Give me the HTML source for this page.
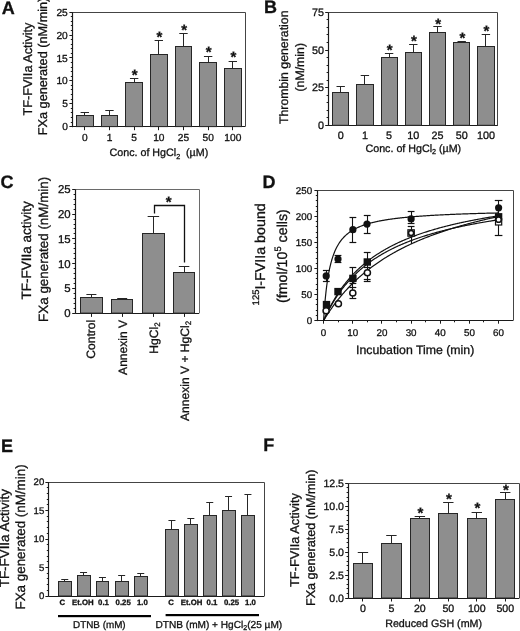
<!DOCTYPE html>
<html><head><meta charset="utf-8"><style>
html,body{margin:0;padding:0;background:#fff;}
svg{display:block;will-change:transform;}
text{font-family:"Liberation Sans", sans-serif;fill:#111;text-rendering:geometricPrecision;stroke:#111;stroke-width:0.3px;}
</style></head><body>
<svg width="520" height="631" viewBox="0 0 520 631">
<rect width="520" height="631" fill="#fff"/>
<text x="1.80" y="13.50" font-size="18" font-weight="bold">A</text>
<polyline points="72.5,126.6 72.5,12.5 245.5,12.5 245.5,126.6" fill="none" stroke="#444" stroke-width="1.0"/>
<line x1="72.60" y1="126.50" x2="245.20" y2="126.50" stroke="#1a1a1a" stroke-width="1.2"/>
<line x1="72.50" y1="127.20" x2="72.50" y2="12.20" stroke="#1a1a1a" stroke-width="1.2"/>
<line x1="69.40" y1="126.50" x2="72.60" y2="126.50" stroke="#1a1a1a" stroke-width="1.0"/>
<line x1="70.80" y1="122.50" x2="72.60" y2="122.50" stroke="#1a1a1a" stroke-width="1.0"/>
<line x1="70.80" y1="117.50" x2="72.60" y2="117.50" stroke="#1a1a1a" stroke-width="1.0"/>
<line x1="70.80" y1="112.50" x2="72.60" y2="112.50" stroke="#1a1a1a" stroke-width="1.0"/>
<line x1="70.80" y1="108.50" x2="72.60" y2="108.50" stroke="#1a1a1a" stroke-width="1.0"/>
<line x1="69.40" y1="103.50" x2="72.60" y2="103.50" stroke="#1a1a1a" stroke-width="1.0"/>
<line x1="70.80" y1="99.50" x2="72.60" y2="99.50" stroke="#1a1a1a" stroke-width="1.0"/>
<line x1="70.80" y1="94.50" x2="72.60" y2="94.50" stroke="#1a1a1a" stroke-width="1.0"/>
<line x1="70.80" y1="89.50" x2="72.60" y2="89.50" stroke="#1a1a1a" stroke-width="1.0"/>
<line x1="70.80" y1="85.50" x2="72.60" y2="85.50" stroke="#1a1a1a" stroke-width="1.0"/>
<line x1="69.40" y1="80.50" x2="72.60" y2="80.50" stroke="#1a1a1a" stroke-width="1.0"/>
<line x1="70.80" y1="76.50" x2="72.60" y2="76.50" stroke="#1a1a1a" stroke-width="1.0"/>
<line x1="70.80" y1="71.50" x2="72.60" y2="71.50" stroke="#1a1a1a" stroke-width="1.0"/>
<line x1="70.80" y1="67.50" x2="72.60" y2="67.50" stroke="#1a1a1a" stroke-width="1.0"/>
<line x1="70.80" y1="62.50" x2="72.60" y2="62.50" stroke="#1a1a1a" stroke-width="1.0"/>
<line x1="69.40" y1="57.50" x2="72.60" y2="57.50" stroke="#1a1a1a" stroke-width="1.0"/>
<line x1="70.80" y1="53.50" x2="72.60" y2="53.50" stroke="#1a1a1a" stroke-width="1.0"/>
<line x1="70.80" y1="48.50" x2="72.60" y2="48.50" stroke="#1a1a1a" stroke-width="1.0"/>
<line x1="70.80" y1="44.50" x2="72.60" y2="44.50" stroke="#1a1a1a" stroke-width="1.0"/>
<line x1="70.80" y1="39.50" x2="72.60" y2="39.50" stroke="#1a1a1a" stroke-width="1.0"/>
<line x1="69.40" y1="35.50" x2="72.60" y2="35.50" stroke="#1a1a1a" stroke-width="1.0"/>
<line x1="70.80" y1="30.50" x2="72.60" y2="30.50" stroke="#1a1a1a" stroke-width="1.0"/>
<line x1="70.80" y1="25.50" x2="72.60" y2="25.50" stroke="#1a1a1a" stroke-width="1.0"/>
<line x1="70.80" y1="21.50" x2="72.60" y2="21.50" stroke="#1a1a1a" stroke-width="1.0"/>
<line x1="70.80" y1="16.50" x2="72.60" y2="16.50" stroke="#1a1a1a" stroke-width="1.0"/>
<line x1="69.40" y1="12.50" x2="72.60" y2="12.50" stroke="#1a1a1a" stroke-width="1.0"/>
<text x="67.81" y="130.17" font-size="10.2" text-anchor="end">0</text>
<text x="67.81" y="107.29" font-size="10.2" text-anchor="end">5</text>
<text x="67.81" y="84.41" font-size="10.2" text-anchor="end">10</text>
<text x="67.81" y="61.53" font-size="10.2" text-anchor="end">15</text>
<text x="67.81" y="38.65" font-size="10.2" text-anchor="end">20</text>
<text x="67.81" y="15.77" font-size="10.2" text-anchor="end">25</text>
<rect x="76.50" y="115.50" width="17.00" height="11.10" fill="#8e8e8e" stroke="#262626" stroke-width="1.0"/>
<line x1="84.50" y1="115.00" x2="84.50" y2="112.30" stroke="#262626" stroke-width="1.0"/>
<line x1="80.60" y1="112.50" x2="89.00" y2="112.50" stroke="#262626" stroke-width="1.0"/>
<line x1="84.50" y1="126.60" x2="84.50" y2="130.20" stroke="#1a1a1a" stroke-width="1.0"/>
<text x="84.80" y="141.00" font-size="10.2" text-anchor="middle">0</text>
<rect x="101.50" y="115.50" width="16.00" height="11.10" fill="#8e8e8e" stroke="#262626" stroke-width="1.0"/>
<line x1="109.50" y1="115.00" x2="109.50" y2="110.40" stroke="#262626" stroke-width="1.0"/>
<line x1="105.27" y1="110.50" x2="113.67" y2="110.50" stroke="#262626" stroke-width="1.0"/>
<line x1="109.50" y1="126.60" x2="109.50" y2="130.20" stroke="#1a1a1a" stroke-width="1.0"/>
<text x="109.47" y="141.00" font-size="10.2" text-anchor="middle">1</text>
<rect x="125.50" y="82.50" width="17.00" height="44.10" fill="#8e8e8e" stroke="#262626" stroke-width="1.0"/>
<line x1="134.50" y1="82.20" x2="134.50" y2="78.20" stroke="#262626" stroke-width="1.0"/>
<line x1="129.94" y1="78.50" x2="138.34" y2="78.50" stroke="#262626" stroke-width="1.0"/>
<text x="131.81" y="79.68" font-size="15" font-weight="bold">*</text>
<line x1="134.50" y1="126.60" x2="134.50" y2="130.20" stroke="#1a1a1a" stroke-width="1.0"/>
<text x="134.14" y="141.00" font-size="10.2" text-anchor="middle">5</text>
<rect x="150.50" y="54.50" width="17.00" height="72.10" fill="#8e8e8e" stroke="#262626" stroke-width="1.0"/>
<line x1="158.50" y1="54.50" x2="158.50" y2="40.75" stroke="#262626" stroke-width="1.0"/>
<line x1="154.61" y1="40.50" x2="163.01" y2="40.50" stroke="#262626" stroke-width="1.0"/>
<text x="156.48" y="42.28" font-size="15" font-weight="bold">*</text>
<line x1="158.50" y1="126.60" x2="158.50" y2="130.20" stroke="#1a1a1a" stroke-width="1.0"/>
<text x="158.81" y="141.00" font-size="10.2" text-anchor="middle">10</text>
<rect x="175.50" y="46.50" width="16.00" height="80.10" fill="#8e8e8e" stroke="#262626" stroke-width="1.0"/>
<line x1="183.50" y1="46.50" x2="183.50" y2="33.50" stroke="#262626" stroke-width="1.0"/>
<line x1="179.28" y1="33.50" x2="187.68" y2="33.50" stroke="#262626" stroke-width="1.0"/>
<text x="181.16" y="35.27" font-size="15" font-weight="bold">*</text>
<line x1="183.50" y1="126.60" x2="183.50" y2="130.20" stroke="#1a1a1a" stroke-width="1.0"/>
<text x="183.48" y="141.00" font-size="10.2" text-anchor="middle">25</text>
<rect x="199.50" y="62.50" width="17.00" height="64.10" fill="#8e8e8e" stroke="#262626" stroke-width="1.0"/>
<line x1="208.50" y1="62.25" x2="208.50" y2="56.25" stroke="#262626" stroke-width="1.0"/>
<line x1="203.95" y1="56.50" x2="212.35" y2="56.50" stroke="#262626" stroke-width="1.0"/>
<text x="205.83" y="57.28" font-size="15" font-weight="bold">*</text>
<line x1="208.50" y1="126.60" x2="208.50" y2="130.20" stroke="#1a1a1a" stroke-width="1.0"/>
<text x="208.15" y="141.00" font-size="10.2" text-anchor="middle">50</text>
<rect x="224.50" y="68.50" width="17.00" height="58.10" fill="#8e8e8e" stroke="#262626" stroke-width="1.0"/>
<line x1="232.50" y1="68.50" x2="232.50" y2="61.75" stroke="#262626" stroke-width="1.0"/>
<line x1="228.62" y1="61.50" x2="237.02" y2="61.50" stroke="#262626" stroke-width="1.0"/>
<text x="230.50" y="61.78" font-size="15" font-weight="bold">*</text>
<line x1="232.50" y1="126.60" x2="232.50" y2="130.20" stroke="#1a1a1a" stroke-width="1.0"/>
<text x="232.82" y="141.00" font-size="10.2" text-anchor="middle">100</text>
<text x="109.60" y="156.30" font-size="10.7">Conc. of HgCl<tspan font-size="7.2" dy="2.6">2</tspan><tspan dy="-2.6" xml:space="preserve">  (µM)</tspan></text>
<text transform="translate(31.70,115.60) rotate(-90)" font-size="12.7">TF-FVIIa Activity</text>
<text transform="translate(46.90,135.20) rotate(-90)" font-size="12.7">FXa generated (nM/min)</text>
<text x="264.00" y="12.90" font-size="18" font-weight="bold">B</text>
<polyline points="328.5,125.3 328.5,12.5 497.5,12.5 497.5,125.3" fill="none" stroke="#444" stroke-width="1.0"/>
<line x1="328.40" y1="125.50" x2="497.80" y2="125.50" stroke="#1a1a1a" stroke-width="1.2"/>
<line x1="328.50" y1="125.90" x2="328.50" y2="12.40" stroke="#1a1a1a" stroke-width="1.2"/>
<line x1="325.20" y1="125.50" x2="328.40" y2="125.50" stroke="#1a1a1a" stroke-width="1.0"/>
<line x1="326.60" y1="117.50" x2="328.40" y2="117.50" stroke="#1a1a1a" stroke-width="1.0"/>
<line x1="326.60" y1="110.50" x2="328.40" y2="110.50" stroke="#1a1a1a" stroke-width="1.0"/>
<line x1="326.60" y1="102.50" x2="328.40" y2="102.50" stroke="#1a1a1a" stroke-width="1.0"/>
<line x1="326.60" y1="95.50" x2="328.40" y2="95.50" stroke="#1a1a1a" stroke-width="1.0"/>
<line x1="325.20" y1="87.50" x2="328.40" y2="87.50" stroke="#1a1a1a" stroke-width="1.0"/>
<line x1="326.60" y1="80.50" x2="328.40" y2="80.50" stroke="#1a1a1a" stroke-width="1.0"/>
<line x1="326.60" y1="72.50" x2="328.40" y2="72.50" stroke="#1a1a1a" stroke-width="1.0"/>
<line x1="326.60" y1="65.50" x2="328.40" y2="65.50" stroke="#1a1a1a" stroke-width="1.0"/>
<line x1="326.60" y1="57.50" x2="328.40" y2="57.50" stroke="#1a1a1a" stroke-width="1.0"/>
<line x1="325.20" y1="50.50" x2="328.40" y2="50.50" stroke="#1a1a1a" stroke-width="1.0"/>
<line x1="326.60" y1="42.50" x2="328.40" y2="42.50" stroke="#1a1a1a" stroke-width="1.0"/>
<line x1="326.60" y1="34.50" x2="328.40" y2="34.50" stroke="#1a1a1a" stroke-width="1.0"/>
<line x1="326.60" y1="27.50" x2="328.40" y2="27.50" stroke="#1a1a1a" stroke-width="1.0"/>
<line x1="326.60" y1="19.50" x2="328.40" y2="19.50" stroke="#1a1a1a" stroke-width="1.0"/>
<line x1="325.20" y1="12.50" x2="328.40" y2="12.50" stroke="#1a1a1a" stroke-width="1.0"/>
<text x="324.03" y="129.08" font-size="10.8" text-anchor="end">0</text>
<text x="324.03" y="91.45" font-size="10.8" text-anchor="end">25</text>
<text x="324.03" y="53.81" font-size="10.8" text-anchor="end">50</text>
<text x="324.03" y="16.18" font-size="10.8" text-anchor="end">75</text>
<rect x="332.50" y="92.50" width="16.00" height="32.80" fill="#8e8e8e" stroke="#262626" stroke-width="1.0"/>
<line x1="340.50" y1="92.30" x2="340.50" y2="86.10" stroke="#262626" stroke-width="1.0"/>
<line x1="336.50" y1="86.50" x2="344.90" y2="86.50" stroke="#262626" stroke-width="1.0"/>
<text x="340.70" y="139.00" font-size="10.8" text-anchor="middle">0</text>
<rect x="356.50" y="84.50" width="17.00" height="40.80" fill="#8e8e8e" stroke="#262626" stroke-width="1.0"/>
<line x1="364.50" y1="84.00" x2="364.50" y2="75.70" stroke="#262626" stroke-width="1.0"/>
<line x1="360.70" y1="75.50" x2="369.10" y2="75.50" stroke="#262626" stroke-width="1.0"/>
<text x="364.90" y="139.00" font-size="10.8" text-anchor="middle">1</text>
<rect x="381.50" y="57.50" width="16.00" height="67.80" fill="#8e8e8e" stroke="#262626" stroke-width="1.0"/>
<line x1="389.50" y1="57.10" x2="389.50" y2="53.10" stroke="#262626" stroke-width="1.0"/>
<line x1="384.90" y1="53.50" x2="393.30" y2="53.50" stroke="#262626" stroke-width="1.0"/>
<text x="386.78" y="54.98" font-size="15" font-weight="bold">*</text>
<text x="389.10" y="139.00" font-size="10.8" text-anchor="middle">5</text>
<rect x="405.50" y="52.50" width="16.00" height="72.80" fill="#8e8e8e" stroke="#262626" stroke-width="1.0"/>
<line x1="413.50" y1="52.30" x2="413.50" y2="44.50" stroke="#262626" stroke-width="1.0"/>
<line x1="409.10" y1="44.50" x2="417.50" y2="44.50" stroke="#262626" stroke-width="1.0"/>
<text x="410.98" y="46.28" font-size="15" font-weight="bold">*</text>
<text x="413.30" y="139.00" font-size="10.8" text-anchor="middle">10</text>
<rect x="429.50" y="32.50" width="16.00" height="92.80" fill="#8e8e8e" stroke="#262626" stroke-width="1.0"/>
<line x1="437.50" y1="32.10" x2="437.50" y2="26.20" stroke="#262626" stroke-width="1.0"/>
<line x1="433.30" y1="26.50" x2="441.70" y2="26.50" stroke="#262626" stroke-width="1.0"/>
<text x="435.18" y="28.57" font-size="15" font-weight="bold">*</text>
<text x="437.50" y="139.00" font-size="10.8" text-anchor="middle">25</text>
<rect x="453.50" y="42.50" width="16.00" height="82.80" fill="#8e8e8e" stroke="#262626" stroke-width="1.0"/>
<line x1="461.50" y1="42.30" x2="461.50" y2="41.50" stroke="#262626" stroke-width="1.0"/>
<line x1="457.50" y1="41.50" x2="465.90" y2="41.50" stroke="#262626" stroke-width="1.0"/>
<text x="459.38" y="42.88" font-size="15" font-weight="bold">*</text>
<text x="461.70" y="139.00" font-size="10.8" text-anchor="middle">50</text>
<rect x="477.50" y="46.50" width="17.00" height="78.80" fill="#8e8e8e" stroke="#262626" stroke-width="1.0"/>
<line x1="485.50" y1="46.30" x2="485.50" y2="34.20" stroke="#262626" stroke-width="1.0"/>
<line x1="481.70" y1="34.50" x2="490.10" y2="34.50" stroke="#262626" stroke-width="1.0"/>
<text x="483.58" y="35.58" font-size="15" font-weight="bold">*</text>
<text x="485.90" y="139.00" font-size="10.8" text-anchor="middle">100</text>
<text x="365.50" y="151.50" font-size="10.7">Conc. of HgCl<tspan font-size="7.2" dy="2.6">2</tspan><tspan dy="-2.6"> (µM)</tspan></text>
<text transform="translate(287.70,124.00) rotate(-90)" font-size="12.3">Thrombin generation</text>
<text transform="translate(304.00,91.50) rotate(-90)" font-size="12.3">(nM/min)</text>
<text x="0.40" y="187.90" font-size="18" font-weight="bold">C</text>
<polyline points="75.5,313.1 75.5,189.5 199.5,189.5 199.5,313.1" fill="none" stroke="#6a6a6a" stroke-width="1.0"/>
<line x1="75.40" y1="313.50" x2="199.20" y2="313.50" stroke="#1a1a1a" stroke-width="1.2"/>
<line x1="75.50" y1="313.70" x2="75.50" y2="189.40" stroke="#1a1a1a" stroke-width="1.2"/>
<line x1="72.20" y1="313.50" x2="75.40" y2="313.50" stroke="#1a1a1a" stroke-width="1.0"/>
<line x1="73.60" y1="308.50" x2="75.40" y2="308.50" stroke="#1a1a1a" stroke-width="1.0"/>
<line x1="73.60" y1="303.50" x2="75.40" y2="303.50" stroke="#1a1a1a" stroke-width="1.0"/>
<line x1="73.60" y1="298.50" x2="75.40" y2="298.50" stroke="#1a1a1a" stroke-width="1.0"/>
<line x1="73.60" y1="293.50" x2="75.40" y2="293.50" stroke="#1a1a1a" stroke-width="1.0"/>
<line x1="72.20" y1="288.50" x2="75.40" y2="288.50" stroke="#1a1a1a" stroke-width="1.0"/>
<line x1="73.60" y1="283.50" x2="75.40" y2="283.50" stroke="#1a1a1a" stroke-width="1.0"/>
<line x1="73.60" y1="278.50" x2="75.40" y2="278.50" stroke="#1a1a1a" stroke-width="1.0"/>
<line x1="73.60" y1="273.50" x2="75.40" y2="273.50" stroke="#1a1a1a" stroke-width="1.0"/>
<line x1="73.60" y1="268.50" x2="75.40" y2="268.50" stroke="#1a1a1a" stroke-width="1.0"/>
<line x1="72.20" y1="263.50" x2="75.40" y2="263.50" stroke="#1a1a1a" stroke-width="1.0"/>
<line x1="73.60" y1="258.50" x2="75.40" y2="258.50" stroke="#1a1a1a" stroke-width="1.0"/>
<line x1="73.60" y1="253.50" x2="75.40" y2="253.50" stroke="#1a1a1a" stroke-width="1.0"/>
<line x1="73.60" y1="248.50" x2="75.40" y2="248.50" stroke="#1a1a1a" stroke-width="1.0"/>
<line x1="73.60" y1="243.50" x2="75.40" y2="243.50" stroke="#1a1a1a" stroke-width="1.0"/>
<line x1="72.20" y1="238.50" x2="75.40" y2="238.50" stroke="#1a1a1a" stroke-width="1.0"/>
<line x1="73.60" y1="233.50" x2="75.40" y2="233.50" stroke="#1a1a1a" stroke-width="1.0"/>
<line x1="73.60" y1="228.50" x2="75.40" y2="228.50" stroke="#1a1a1a" stroke-width="1.0"/>
<line x1="73.60" y1="224.50" x2="75.40" y2="224.50" stroke="#1a1a1a" stroke-width="1.0"/>
<line x1="73.60" y1="219.50" x2="75.40" y2="219.50" stroke="#1a1a1a" stroke-width="1.0"/>
<line x1="72.20" y1="214.50" x2="75.40" y2="214.50" stroke="#1a1a1a" stroke-width="1.0"/>
<line x1="73.60" y1="209.50" x2="75.40" y2="209.50" stroke="#1a1a1a" stroke-width="1.0"/>
<line x1="73.60" y1="204.50" x2="75.40" y2="204.50" stroke="#1a1a1a" stroke-width="1.0"/>
<line x1="73.60" y1="199.50" x2="75.40" y2="199.50" stroke="#1a1a1a" stroke-width="1.0"/>
<line x1="73.60" y1="194.50" x2="75.40" y2="194.50" stroke="#1a1a1a" stroke-width="1.0"/>
<line x1="72.20" y1="189.50" x2="75.40" y2="189.50" stroke="#1a1a1a" stroke-width="1.0"/>
<text x="70.56" y="317.09" font-size="11.4" text-anchor="end">0</text>
<text x="70.56" y="292.35" font-size="11.4" text-anchor="end">5</text>
<text x="70.56" y="267.61" font-size="11.4" text-anchor="end">10</text>
<text x="70.56" y="242.87" font-size="11.4" text-anchor="end">15</text>
<text x="70.56" y="218.13" font-size="11.4" text-anchor="end">20</text>
<text x="70.56" y="193.39" font-size="11.4" text-anchor="end">25</text>
<rect x="80.50" y="297.50" width="22.00" height="15.60" fill="#8e8e8e" stroke="#262626" stroke-width="1.0"/>
<line x1="91.50" y1="297.20" x2="91.50" y2="294.50" stroke="#262626" stroke-width="1.0"/>
<line x1="86.40" y1="294.50" x2="96.40" y2="294.50" stroke="#262626" stroke-width="1.0"/>
<line x1="91.50" y1="313.10" x2="91.50" y2="316.90" stroke="#1a1a1a" stroke-width="1.0"/>
<rect x="111.50" y="299.50" width="21.00" height="13.60" fill="#8e8e8e" stroke="#262626" stroke-width="1.0"/>
<line x1="122.50" y1="299.30" x2="122.50" y2="298.50" stroke="#262626" stroke-width="1.0"/>
<line x1="117.20" y1="298.50" x2="127.20" y2="298.50" stroke="#262626" stroke-width="1.0"/>
<line x1="122.50" y1="313.10" x2="122.50" y2="316.90" stroke="#1a1a1a" stroke-width="1.0"/>
<rect x="142.50" y="233.50" width="22.00" height="79.60" fill="#8e8e8e" stroke="#262626" stroke-width="1.0"/>
<line x1="153.50" y1="233.50" x2="153.50" y2="216.20" stroke="#262626" stroke-width="1.0"/>
<line x1="147.65" y1="216.50" x2="159.15" y2="216.50" stroke="#262626" stroke-width="1.0"/>
<line x1="153.50" y1="313.10" x2="153.50" y2="316.90" stroke="#1a1a1a" stroke-width="1.0"/>
<rect x="173.50" y="272.50" width="21.00" height="40.60" fill="#8e8e8e" stroke="#262626" stroke-width="1.0"/>
<line x1="184.50" y1="272.20" x2="184.50" y2="266.30" stroke="#262626" stroke-width="1.0"/>
<line x1="178.85" y1="266.50" x2="189.35" y2="266.50" stroke="#262626" stroke-width="1.0"/>
<line x1="184.50" y1="313.10" x2="184.50" y2="316.90" stroke="#1a1a1a" stroke-width="1.0"/>
<polyline points="154.5,213.6 154.5,205.5 184.5,205.5 184.5,262.6" fill="none" stroke="#111" stroke-width="1.3"/>
<text x="165.67" y="207.07" font-size="15" font-weight="bold">*</text>
<text transform="translate(95.20,319.80) rotate(-90)" font-size="12.1" text-anchor="end">Control</text>
<text transform="translate(126.90,319.80) rotate(-90)" font-size="12.1" text-anchor="end">Annexin V</text>
<text transform="translate(157.50,322.40) rotate(-90)" font-size="12.1" text-anchor="end">HgCl<tspan font-size="8" dy="2.8">2</tspan></text>
<text transform="translate(188.60,320.80) rotate(-90)" font-size="12.1" text-anchor="end">Annexin V + HgCl<tspan font-size="8" dy="2.8">2</tspan></text>
<text transform="translate(31.20,299.60) rotate(-90)" font-size="13.5">TF-FVIIa activity</text>
<text transform="translate(47.70,321.90) rotate(-90)" font-size="13.4">FXa generated (nM/min)</text>
<text x="262.40" y="188.10" font-size="18" font-weight="bold">D</text>
<polyline points="317.5,320.5 317.5,190.5 513.5,190.5 513.5,320.5" fill="none" stroke="#444" stroke-width="1.0"/>
<line x1="317.60" y1="320.50" x2="513.20" y2="320.50" stroke="#1a1a1a" stroke-width="1.2"/>
<line x1="317.50" y1="321.10" x2="317.50" y2="190.40" stroke="#1a1a1a" stroke-width="1.2"/>
<line x1="314.40" y1="320.50" x2="317.60" y2="320.50" stroke="#1a1a1a" stroke-width="1.0"/>
<line x1="315.80" y1="315.50" x2="317.60" y2="315.50" stroke="#1a1a1a" stroke-width="1.0"/>
<line x1="315.80" y1="310.50" x2="317.60" y2="310.50" stroke="#1a1a1a" stroke-width="1.0"/>
<line x1="315.80" y1="304.50" x2="317.60" y2="304.50" stroke="#1a1a1a" stroke-width="1.0"/>
<line x1="315.80" y1="299.50" x2="317.60" y2="299.50" stroke="#1a1a1a" stroke-width="1.0"/>
<line x1="314.40" y1="294.50" x2="317.60" y2="294.50" stroke="#1a1a1a" stroke-width="1.0"/>
<line x1="315.80" y1="289.50" x2="317.60" y2="289.50" stroke="#1a1a1a" stroke-width="1.0"/>
<line x1="315.80" y1="284.50" x2="317.60" y2="284.50" stroke="#1a1a1a" stroke-width="1.0"/>
<line x1="315.80" y1="278.50" x2="317.60" y2="278.50" stroke="#1a1a1a" stroke-width="1.0"/>
<line x1="315.80" y1="273.50" x2="317.60" y2="273.50" stroke="#1a1a1a" stroke-width="1.0"/>
<line x1="314.40" y1="268.50" x2="317.60" y2="268.50" stroke="#1a1a1a" stroke-width="1.0"/>
<line x1="315.80" y1="263.50" x2="317.60" y2="263.50" stroke="#1a1a1a" stroke-width="1.0"/>
<line x1="315.80" y1="258.50" x2="317.60" y2="258.50" stroke="#1a1a1a" stroke-width="1.0"/>
<line x1="315.80" y1="252.50" x2="317.60" y2="252.50" stroke="#1a1a1a" stroke-width="1.0"/>
<line x1="315.80" y1="247.50" x2="317.60" y2="247.50" stroke="#1a1a1a" stroke-width="1.0"/>
<line x1="314.40" y1="242.50" x2="317.60" y2="242.50" stroke="#1a1a1a" stroke-width="1.0"/>
<line x1="315.80" y1="237.50" x2="317.60" y2="237.50" stroke="#1a1a1a" stroke-width="1.0"/>
<line x1="315.80" y1="232.50" x2="317.60" y2="232.50" stroke="#1a1a1a" stroke-width="1.0"/>
<line x1="315.80" y1="226.50" x2="317.60" y2="226.50" stroke="#1a1a1a" stroke-width="1.0"/>
<line x1="315.80" y1="221.50" x2="317.60" y2="221.50" stroke="#1a1a1a" stroke-width="1.0"/>
<line x1="314.40" y1="216.50" x2="317.60" y2="216.50" stroke="#1a1a1a" stroke-width="1.0"/>
<line x1="315.80" y1="211.50" x2="317.60" y2="211.50" stroke="#1a1a1a" stroke-width="1.0"/>
<line x1="315.80" y1="206.50" x2="317.60" y2="206.50" stroke="#1a1a1a" stroke-width="1.0"/>
<line x1="315.80" y1="200.50" x2="317.60" y2="200.50" stroke="#1a1a1a" stroke-width="1.0"/>
<line x1="315.80" y1="195.50" x2="317.60" y2="195.50" stroke="#1a1a1a" stroke-width="1.0"/>
<line x1="314.40" y1="190.50" x2="317.60" y2="190.50" stroke="#1a1a1a" stroke-width="1.0"/>
<text x="312.19" y="323.93" font-size="9.8" text-anchor="end">0</text>
<text x="312.19" y="297.91" font-size="9.8" text-anchor="end">50</text>
<text x="312.19" y="271.89" font-size="9.8" text-anchor="end">100</text>
<text x="312.19" y="245.87" font-size="9.8" text-anchor="end">150</text>
<text x="312.19" y="219.85" font-size="9.8" text-anchor="end">200</text>
<text x="312.19" y="193.83" font-size="9.8" text-anchor="end">250</text>
<line x1="323.50" y1="320.50" x2="323.50" y2="323.70" stroke="#1a1a1a" stroke-width="1.0"/>
<text x="323.60" y="335.50" font-size="9.8" text-anchor="middle">0</text>
<line x1="338.50" y1="320.50" x2="338.50" y2="322.30" stroke="#1a1a1a" stroke-width="1.0"/>
<line x1="352.50" y1="320.50" x2="352.50" y2="323.70" stroke="#1a1a1a" stroke-width="1.0"/>
<text x="352.76" y="335.50" font-size="9.8" text-anchor="middle">10</text>
<line x1="367.50" y1="320.50" x2="367.50" y2="322.30" stroke="#1a1a1a" stroke-width="1.0"/>
<line x1="381.50" y1="320.50" x2="381.50" y2="323.70" stroke="#1a1a1a" stroke-width="1.0"/>
<text x="381.92" y="335.50" font-size="9.8" text-anchor="middle">20</text>
<line x1="396.50" y1="320.50" x2="396.50" y2="322.30" stroke="#1a1a1a" stroke-width="1.0"/>
<line x1="411.50" y1="320.50" x2="411.50" y2="323.70" stroke="#1a1a1a" stroke-width="1.0"/>
<text x="411.08" y="335.50" font-size="9.8" text-anchor="middle">30</text>
<line x1="425.50" y1="320.50" x2="425.50" y2="322.30" stroke="#1a1a1a" stroke-width="1.0"/>
<line x1="440.50" y1="320.50" x2="440.50" y2="323.70" stroke="#1a1a1a" stroke-width="1.0"/>
<text x="440.24" y="335.50" font-size="9.8" text-anchor="middle">40</text>
<line x1="454.50" y1="320.50" x2="454.50" y2="322.30" stroke="#1a1a1a" stroke-width="1.0"/>
<line x1="469.50" y1="320.50" x2="469.50" y2="323.70" stroke="#1a1a1a" stroke-width="1.0"/>
<text x="469.40" y="335.50" font-size="9.8" text-anchor="middle">50</text>
<line x1="483.50" y1="320.50" x2="483.50" y2="322.30" stroke="#1a1a1a" stroke-width="1.0"/>
<line x1="498.50" y1="320.50" x2="498.50" y2="323.70" stroke="#1a1a1a" stroke-width="1.0"/>
<text x="498.56" y="335.50" font-size="9.8" text-anchor="middle">60</text>
<text x="356.00" y="353.60" font-size="12.3">Incubation Time (min)</text>
<polyline points="323.60,320.50 323.75,318.20 323.89,315.99 324.04,313.86 324.18,311.82 324.33,309.86 324.47,307.97 324.62,306.15 324.77,304.40 324.91,302.70 325.06,301.07 325.20,299.49 325.35,297.97 325.50,296.49 325.64,295.07 325.79,293.69 325.93,292.35 326.08,291.05 326.22,289.80 326.37,288.58 326.52,287.39 326.66,286.25 326.81,285.13 326.95,284.05 327.10,282.99 327.25,281.97 327.39,280.97 327.54,280.00 327.68,279.06 327.83,278.14 327.97,277.24 328.12,276.37 328.27,275.52 328.41,274.69 328.56,273.88 328.70,273.09 328.85,272.32 328.99,271.57 329.14,270.83 329.29,270.11 329.43,269.41 329.58,268.73 329.72,268.05 329.87,267.40 330.02,266.76 330.16,266.13 330.31,265.52 330.45,264.91 330.60,264.33 330.74,263.75 330.89,263.18 331.04,262.63 331.18,262.09 331.33,261.56 331.47,261.04 331.62,260.53 331.76,260.03 331.91,259.53 332.06,259.05 332.20,258.58 332.35,258.12 333.08,255.92 333.81,253.91 334.54,252.06 335.26,250.36 335.99,248.79 336.72,247.33 337.45,245.98 338.18,244.71 338.91,243.53 339.64,242.42 340.37,241.39 341.10,240.41 341.83,239.49 342.55,238.62 343.28,237.80 344.01,237.02 344.74,236.29 345.47,235.59 346.20,234.92 346.93,234.29 347.66,233.69 348.39,233.11 349.12,232.56 349.84,232.04 350.57,231.54 351.30,231.06 352.03,230.59 352.76,230.15 353.49,229.73 354.22,229.32 354.95,228.92 355.68,228.55 356.41,228.18 357.13,227.83 357.86,227.49 358.59,227.16 359.32,226.85 360.05,226.54 360.78,226.25 361.51,225.96 362.24,225.68 362.97,225.42 363.70,225.16 364.42,224.90 365.15,224.66 365.88,224.42 366.61,224.19 367.34,223.97 368.07,223.75 368.80,223.54 369.53,223.34 370.26,223.14 370.99,222.94 371.71,222.75 372.44,222.57 373.17,222.39 373.90,222.22 374.63,222.04 375.36,221.88 376.09,221.72 376.82,221.56 377.55,221.40 378.28,221.25 379.00,221.11 379.73,220.96 380.46,220.82 381.19,220.68 381.92,220.55 382.65,220.42 383.38,220.29 384.11,220.16 384.84,220.04 385.56,219.92 386.29,219.80 387.02,219.69 387.75,219.58 388.48,219.46 389.21,219.36 389.94,219.25 390.67,219.15 391.40,219.04 392.13,218.94 392.86,218.84 393.58,218.75 394.31,218.65 395.04,218.56 395.77,218.47 396.50,218.38 397.23,218.29 397.96,218.21 398.69,218.12 399.42,218.04 400.15,217.96 400.87,217.88 401.60,217.80 402.33,217.72 403.06,217.64 403.79,217.57 404.52,217.49 405.25,217.42 405.98,217.35 406.71,217.28 407.44,217.21 408.16,217.14 408.89,217.07 409.62,217.01 410.35,216.94 411.08,216.88 411.81,216.82 412.54,216.75 413.27,216.69 414.00,216.63 414.73,216.57 415.45,216.52 416.18,216.46 416.91,216.40 417.64,216.35 418.37,216.29 419.10,216.24 419.83,216.18 420.56,216.13 421.29,216.08 422.01,216.03 422.74,215.98 423.47,215.93 424.20,215.88 424.93,215.83 425.66,215.78 426.39,215.73 427.12,215.69 427.85,215.64 428.58,215.60 429.31,215.55 430.03,215.51 430.76,215.46 431.49,215.42 432.22,215.38 432.95,215.33 433.68,215.29 434.41,215.25 435.14,215.21 435.87,215.17 436.60,215.13 437.32,215.09 438.05,215.05 438.78,215.02 439.51,214.98 440.24,214.94 440.97,214.90 441.70,214.87 442.43,214.83 443.16,214.80 443.88,214.76 444.61,214.73 445.34,214.69 446.07,214.66 446.80,214.63 447.53,214.59 448.26,214.56 448.99,214.53 449.72,214.49 450.45,214.46 451.18,214.43 451.90,214.40 452.63,214.37 453.36,214.34 454.09,214.31 454.82,214.28 455.55,214.25 456.28,214.22 457.01,214.19 457.74,214.16 458.47,214.13 459.19,214.11 459.92,214.08 460.65,214.05 461.38,214.02 462.11,214.00 462.84,213.97 463.57,213.94 464.30,213.92 465.03,213.89 465.75,213.87 466.48,213.84 467.21,213.82 467.94,213.79 468.67,213.77 469.40,213.74 470.13,213.72 470.86,213.70 471.59,213.67 472.32,213.65 473.05,213.63 473.77,213.60 474.50,213.58 475.23,213.56 475.96,213.53 476.69,213.51 477.42,213.49 478.15,213.47 478.88,213.45 479.61,213.43 480.34,213.40 481.06,213.38 481.79,213.36 482.52,213.34 483.25,213.32 483.98,213.30 484.71,213.28 485.44,213.26 486.17,213.24 486.90,213.22 487.62,213.20 488.35,213.18 489.08,213.16 489.81,213.14 490.54,213.13 491.27,213.11 492.00,213.09 492.73,213.07 493.46,213.05 494.19,213.03 494.92,213.02 495.64,213.00 496.37,212.98 497.10,212.96 497.83,212.95 498.56,212.93" fill="none" stroke="#111" stroke-width="1.2"/>
<polyline points="323.60,320.50 323.75,320.16 323.89,319.82 324.04,319.49 324.18,319.16 324.33,318.82 324.47,318.49 324.62,318.16 324.77,317.84 324.91,317.51 325.06,317.19 325.20,316.86 325.35,316.54 325.50,316.22 325.64,315.91 325.79,315.59 325.93,315.27 326.08,314.96 326.22,314.65 326.37,314.34 326.52,314.03 326.66,313.72 326.81,313.41 326.95,313.11 327.10,312.80 327.25,312.50 327.39,312.20 327.54,311.90 327.68,311.60 327.83,311.30 327.97,311.01 328.12,310.71 328.27,310.42 328.41,310.13 328.56,309.84 328.70,309.55 328.85,309.26 328.99,308.97 329.14,308.69 329.29,308.40 329.43,308.12 329.58,307.84 329.72,307.56 329.87,307.28 330.02,307.00 330.16,306.73 330.31,306.45 330.45,306.18 330.60,305.90 330.74,305.63 330.89,305.36 331.04,305.09 331.18,304.82 331.33,304.55 331.47,304.29 331.62,304.02 331.76,303.76 331.91,303.50 332.06,303.23 332.20,302.97 332.35,302.71 333.08,301.43 333.81,300.18 334.54,298.95 335.26,297.74 335.99,296.56 336.72,295.40 337.45,294.27 338.18,293.16 338.91,292.07 339.64,291.00 340.37,289.95 341.10,288.91 341.83,287.90 342.55,286.91 343.28,285.93 344.01,284.98 344.74,284.04 345.47,283.11 346.20,282.21 346.93,281.31 347.66,280.44 348.39,279.58 349.12,278.73 349.84,277.90 350.57,277.08 351.30,276.27 352.03,275.48 352.76,274.70 353.49,273.93 354.22,273.18 354.95,272.44 355.68,271.71 356.41,270.99 357.13,270.28 357.86,269.58 358.59,268.90 359.32,268.22 360.05,267.55 360.78,266.90 361.51,266.25 362.24,265.61 362.97,264.99 363.70,264.37 364.42,263.76 365.15,263.16 365.88,262.56 366.61,261.98 367.34,261.40 368.07,260.84 368.80,260.28 369.53,259.72 370.26,259.18 370.99,258.64 371.71,258.11 372.44,257.59 373.17,257.07 373.90,256.56 374.63,256.06 375.36,255.56 376.09,255.07 376.82,254.59 377.55,254.11 378.28,253.64 379.00,253.17 379.73,252.71 380.46,252.26 381.19,251.81 381.92,251.37 382.65,250.93 383.38,250.50 384.11,250.07 384.84,249.65 385.56,249.23 386.29,248.82 387.02,248.41 387.75,248.01 388.48,247.61 389.21,247.22 389.94,246.83 390.67,246.45 391.40,246.07 392.13,245.69 392.86,245.32 393.58,244.95 394.31,244.59 395.04,244.23 395.77,243.88 396.50,243.53 397.23,243.18 397.96,242.83 398.69,242.49 399.42,242.16 400.15,241.83 400.87,241.50 401.60,241.17 402.33,240.85 403.06,240.53 403.79,240.21 404.52,239.90 405.25,239.59 405.98,239.29 406.71,238.98 407.44,238.68 408.16,238.39 408.89,238.09 409.62,237.80 410.35,237.51 411.08,237.23 411.81,236.95 412.54,236.67 413.27,236.39 414.00,236.11 414.73,235.84 415.45,235.57 416.18,235.31 416.91,235.04 417.64,234.78 418.37,234.52 419.10,234.27 419.83,234.01 420.56,233.76 421.29,233.51 422.01,233.26 422.74,233.02 423.47,232.77 424.20,232.53 424.93,232.30 425.66,232.06 426.39,231.82 427.12,231.59 427.85,231.36 428.58,231.13 429.31,230.91 430.03,230.68 430.76,230.46 431.49,230.24 432.22,230.02 432.95,229.81 433.68,229.59 434.41,229.38 435.14,229.17 435.87,228.96 436.60,228.75 437.32,228.55 438.05,228.34 438.78,228.14 439.51,227.94 440.24,227.74 440.97,227.54 441.70,227.35 442.43,227.15 443.16,226.96 443.88,226.77 444.61,226.58 445.34,226.39 446.07,226.21 446.80,226.02 447.53,225.84 448.26,225.66 448.99,225.47 449.72,225.30 450.45,225.12 451.18,224.94 451.90,224.77 452.63,224.59 453.36,224.42 454.09,224.25 454.82,224.08 455.55,223.91 456.28,223.74 457.01,223.58 457.74,223.41 458.47,223.25 459.19,223.09 459.92,222.93 460.65,222.77 461.38,222.61 462.11,222.45 462.84,222.29 463.57,222.14 464.30,221.98 465.03,221.83 465.75,221.68 466.48,221.53 467.21,221.38 467.94,221.23 468.67,221.08 469.40,220.93 470.13,220.79 470.86,220.64 471.59,220.50 472.32,220.36 473.05,220.22 473.77,220.08 474.50,219.94 475.23,219.80 475.96,219.66 476.69,219.52 477.42,219.39 478.15,219.25 478.88,219.12 479.61,218.99 480.34,218.85 481.06,218.72 481.79,218.59 482.52,218.46 483.25,218.33 483.98,218.21 484.71,218.08 485.44,217.95 486.17,217.83 486.90,217.70 487.62,217.58 488.35,217.46 489.08,217.33 489.81,217.21 490.54,217.09 491.27,216.97 492.00,216.85 492.73,216.73 493.46,216.62 494.19,216.50 494.92,216.38 495.64,216.27 496.37,216.15 497.10,216.04 497.83,215.93 498.56,215.81" fill="none" stroke="#111" stroke-width="1.2"/>
<polyline points="323.60,320.50 323.75,320.18 323.89,319.86 324.04,319.54 324.18,319.22 324.33,318.91 324.47,318.60 324.62,318.28 324.77,317.97 324.91,317.66 325.06,317.36 325.20,317.05 325.35,316.75 325.50,316.44 325.64,316.14 325.79,315.84 325.93,315.54 326.08,315.24 326.22,314.94 326.37,314.65 326.52,314.35 326.66,314.06 326.81,313.77 326.95,313.48 327.10,313.19 327.25,312.90 327.39,312.62 327.54,312.33 327.68,312.05 327.83,311.77 327.97,311.49 328.12,311.21 328.27,310.93 328.41,310.65 328.56,310.37 328.70,310.10 328.85,309.82 328.99,309.55 329.14,309.28 329.29,309.01 329.43,308.74 329.58,308.47 329.72,308.20 329.87,307.94 330.02,307.67 330.16,307.41 330.31,307.15 330.45,306.89 330.60,306.63 330.74,306.37 330.89,306.11 331.04,305.85 331.18,305.60 331.33,305.34 331.47,305.09 331.62,304.84 331.76,304.59 331.91,304.33 332.06,304.09 332.20,303.84 332.35,303.59 333.08,302.37 333.81,301.17 334.54,300.00 335.26,298.85 335.99,297.72 336.72,296.62 337.45,295.53 338.18,294.47 338.91,293.43 339.64,292.40 340.37,291.40 341.10,290.41 341.83,289.45 342.55,288.50 343.28,287.56 344.01,286.65 344.74,285.74 345.47,284.86 346.20,283.99 346.93,283.14 347.66,282.30 348.39,281.47 349.12,280.66 349.84,279.86 350.57,279.07 351.30,278.30 352.03,277.54 352.76,276.79 353.49,276.05 354.22,275.33 354.95,274.62 355.68,273.91 356.41,273.22 357.13,272.54 357.86,271.87 358.59,271.21 359.32,270.56 360.05,269.92 360.78,269.29 361.51,268.67 362.24,268.05 362.97,267.45 363.70,266.85 364.42,266.27 365.15,265.69 365.88,265.12 366.61,264.55 367.34,264.00 368.07,263.45 368.80,262.91 369.53,262.38 370.26,261.85 370.99,261.34 371.71,260.82 372.44,260.32 373.17,259.82 373.90,259.33 374.63,258.84 375.36,258.37 376.09,257.89 376.82,257.43 377.55,256.96 378.28,256.51 379.00,256.06 379.73,255.62 380.46,255.18 381.19,254.74 381.92,254.32 382.65,253.89 383.38,253.47 384.11,253.06 384.84,252.65 385.56,252.25 386.29,251.85 387.02,251.46 387.75,251.07 388.48,250.69 389.21,250.30 389.94,249.93 390.67,249.56 391.40,249.19 392.13,248.83 392.86,248.47 393.58,248.11 394.31,247.76 395.04,247.41 395.77,247.07 396.50,246.73 397.23,246.39 397.96,246.06 398.69,245.73 399.42,245.40 400.15,245.08 400.87,244.76 401.60,244.45 402.33,244.14 403.06,243.83 403.79,243.52 404.52,243.22 405.25,242.92 405.98,242.62 406.71,242.33 407.44,242.04 408.16,241.75 408.89,241.46 409.62,241.18 410.35,240.90 411.08,240.62 411.81,240.35 412.54,240.08 413.27,239.81 414.00,239.54 414.73,239.28 415.45,239.02 416.18,238.76 416.91,238.50 417.64,238.25 418.37,238.00 419.10,237.75 419.83,237.50 420.56,237.26 421.29,237.02 422.01,236.78 422.74,236.54 423.47,236.30 424.20,236.07 424.93,235.84 425.66,235.61 426.39,235.38 427.12,235.15 427.85,234.93 428.58,234.71 429.31,234.49 430.03,234.27 430.76,234.06 431.49,233.84 432.22,233.63 432.95,233.42 433.68,233.21 434.41,233.00 435.14,232.80 435.87,232.60 436.60,232.39 437.32,232.19 438.05,232.00 438.78,231.80 439.51,231.60 440.24,231.41 440.97,231.22 441.70,231.03 442.43,230.84 443.16,230.65 443.88,230.47 444.61,230.28 445.34,230.10 446.07,229.92 446.80,229.74 447.53,229.56 448.26,229.38 448.99,229.21 449.72,229.03 450.45,228.86 451.18,228.69 451.90,228.52 452.63,228.35 453.36,228.18 454.09,228.01 454.82,227.85 455.55,227.68 456.28,227.52 457.01,227.36 457.74,227.20 458.47,227.04 459.19,226.88 459.92,226.72 460.65,226.57 461.38,226.41 462.11,226.26 462.84,226.11 463.57,225.96 464.30,225.81 465.03,225.66 465.75,225.51 466.48,225.36 467.21,225.22 467.94,225.07 468.67,224.93 469.40,224.79 470.13,224.64 470.86,224.50 471.59,224.36 472.32,224.22 473.05,224.09 473.77,223.95 474.50,223.81 475.23,223.68 475.96,223.54 476.69,223.41 477.42,223.28 478.15,223.15 478.88,223.02 479.61,222.89 480.34,222.76 481.06,222.63 481.79,222.50 482.52,222.37 483.25,222.25 483.98,222.12 484.71,222.00 485.44,221.88 486.17,221.76 486.90,221.63 487.62,221.51 488.35,221.39 489.08,221.27 489.81,221.16 490.54,221.04 491.27,220.92 492.00,220.81 492.73,220.69 493.46,220.58 494.19,220.46 494.92,220.35 495.64,220.24 496.37,220.12 497.10,220.01 497.83,219.90 498.56,219.79" fill="none" stroke="#111" stroke-width="1.2"/>
<polyline points="323.60,320.50 323.75,320.26 323.89,320.02 324.04,319.78 324.18,319.54 324.33,319.30 324.47,319.06 324.62,318.83 324.77,318.59 324.91,318.36 325.06,318.12 325.20,317.89 325.35,317.65 325.50,317.42 325.64,317.19 325.79,316.96 325.93,316.73 326.08,316.50 326.22,316.27 326.37,316.04 326.52,315.81 326.66,315.58 326.81,315.36 326.95,315.13 327.10,314.91 327.25,314.68 327.39,314.46 327.54,314.23 327.68,314.01 327.83,313.79 327.97,313.57 328.12,313.35 328.27,313.13 328.41,312.91 328.56,312.69 328.70,312.47 328.85,312.25 328.99,312.03 329.14,311.82 329.29,311.60 329.43,311.39 329.58,311.17 329.72,310.96 329.87,310.74 330.02,310.53 330.16,310.32 330.31,310.11 330.45,309.90 330.60,309.69 330.74,309.48 330.89,309.27 331.04,309.06 331.18,308.85 331.33,308.64 331.47,308.43 331.62,308.23 331.76,308.02 331.91,307.82 332.06,307.61 332.20,307.41 332.35,307.20 333.08,306.19 333.81,305.20 334.54,304.21 335.26,303.24 335.99,302.29 336.72,301.34 337.45,300.41 338.18,299.49 338.91,298.58 339.64,297.68 340.37,296.80 341.10,295.92 341.83,295.06 342.55,294.21 343.28,293.36 344.01,292.53 344.74,291.71 345.47,290.90 346.20,290.10 346.93,289.31 347.66,288.52 348.39,287.75 349.12,286.99 349.84,286.23 350.57,285.48 351.30,284.75 352.03,284.02 352.76,283.30 353.49,282.58 354.22,281.88 354.95,281.18 355.68,280.49 356.41,279.81 357.13,279.14 357.86,278.47 358.59,277.81 359.32,277.16 360.05,276.52 360.78,275.88 361.51,275.25 362.24,274.62 362.97,274.01 363.70,273.40 364.42,272.79 365.15,272.19 365.88,271.60 366.61,271.02 367.34,270.44 368.07,269.86 368.80,269.29 369.53,268.73 370.26,268.17 370.99,267.62 371.71,267.08 372.44,266.54 373.17,266.00 373.90,265.47 374.63,264.95 375.36,264.43 376.09,263.92 376.82,263.41 377.55,262.90 378.28,262.40 379.00,261.91 379.73,261.42 380.46,260.93 381.19,260.45 381.92,259.97 382.65,259.50 383.38,259.03 384.11,258.57 384.84,258.11 385.56,257.66 386.29,257.21 387.02,256.76 387.75,256.32 388.48,255.88 389.21,255.44 389.94,255.01 390.67,254.58 391.40,254.16 392.13,253.74 392.86,253.33 393.58,252.91 394.31,252.50 395.04,252.10 395.77,251.70 396.50,251.30 397.23,250.90 397.96,250.51 398.69,250.12 399.42,249.74 400.15,249.36 400.87,248.98 401.60,248.60 402.33,248.23 403.06,247.86 403.79,247.49 404.52,247.13 405.25,246.77 405.98,246.41 406.71,246.06 407.44,245.70 408.16,245.36 408.89,245.01 409.62,244.67 410.35,244.32 411.08,243.99 411.81,243.65 412.54,243.32 413.27,242.99 414.00,242.66 414.73,242.33 415.45,242.01 416.18,241.69 416.91,241.37 417.64,241.06 418.37,240.75 419.10,240.43 419.83,240.13 420.56,239.82 421.29,239.52 422.01,239.22 422.74,238.92 423.47,238.62 424.20,238.32 424.93,238.03 425.66,237.74 426.39,237.45 427.12,237.17 427.85,236.88 428.58,236.60 429.31,236.32 430.03,236.04 430.76,235.76 431.49,235.49 432.22,235.22 432.95,234.95 433.68,234.68 434.41,234.41 435.14,234.15 435.87,233.88 436.60,233.62 437.32,233.36 438.05,233.11 438.78,232.85 439.51,232.60 440.24,232.34 440.97,232.09 441.70,231.84 442.43,231.60 443.16,231.35 443.88,231.11 444.61,230.86 445.34,230.62 446.07,230.38 446.80,230.15 447.53,229.91 448.26,229.68 448.99,229.44 449.72,229.21 450.45,228.98 451.18,228.75 451.90,228.53 452.63,228.30 453.36,228.08 454.09,227.85 454.82,227.63 455.55,227.41 456.28,227.19 457.01,226.98 457.74,226.76 458.47,226.55 459.19,226.33 459.92,226.12 460.65,225.91 461.38,225.70 462.11,225.49 462.84,225.29 463.57,225.08 464.30,224.88 465.03,224.68 465.75,224.47 466.48,224.27 467.21,224.08 467.94,223.88 468.67,223.68 469.40,223.49 470.13,223.29 470.86,223.10 471.59,222.91 472.32,222.71 473.05,222.52 473.77,222.34 474.50,222.15 475.23,221.96 475.96,221.78 476.69,221.59 477.42,221.41 478.15,221.23 478.88,221.05 479.61,220.87 480.34,220.69 481.06,220.51 481.79,220.33 482.52,220.16 483.25,219.98 483.98,219.81 484.71,219.63 485.44,219.46 486.17,219.29 486.90,219.12 487.62,218.95 488.35,218.78 489.08,218.61 489.81,218.45 490.54,218.28 491.27,218.12 492.00,217.95 492.73,217.79 493.46,217.63 494.19,217.47 494.92,217.31 495.64,217.15 496.37,216.99 497.10,216.83 497.83,216.68 498.56,216.52" fill="none" stroke="#111" stroke-width="1.2"/>
<line x1="326.50" y1="270.70" x2="326.50" y2="281.60" stroke="#111" stroke-width="1.1"/>
<line x1="322.90" y1="270.50" x2="329.70" y2="270.50" stroke="#111" stroke-width="1.2"/>
<line x1="322.90" y1="281.50" x2="329.70" y2="281.50" stroke="#111" stroke-width="1.2"/>
<line x1="338.50" y1="255.70" x2="338.50" y2="262.60" stroke="#111" stroke-width="1.1"/>
<line x1="334.60" y1="255.50" x2="341.40" y2="255.50" stroke="#111" stroke-width="1.2"/>
<line x1="334.60" y1="262.50" x2="341.40" y2="262.50" stroke="#111" stroke-width="1.2"/>
<line x1="352.50" y1="217.40" x2="352.50" y2="242.20" stroke="#111" stroke-width="1.1"/>
<line x1="349.50" y1="217.50" x2="356.30" y2="217.50" stroke="#111" stroke-width="1.2"/>
<line x1="349.50" y1="242.50" x2="356.30" y2="242.50" stroke="#111" stroke-width="1.2"/>
<line x1="352.50" y1="267.60" x2="352.50" y2="298.50" stroke="#111" stroke-width="1.1"/>
<line x1="349.50" y1="267.50" x2="356.30" y2="267.50" stroke="#111" stroke-width="1.2"/>
<line x1="349.50" y1="283.50" x2="356.30" y2="283.50" stroke="#111" stroke-width="1.2"/>
<line x1="349.50" y1="287.50" x2="356.30" y2="287.50" stroke="#111" stroke-width="1.2"/>
<line x1="349.50" y1="298.50" x2="356.30" y2="298.50" stroke="#111" stroke-width="1.2"/>
<line x1="367.50" y1="215.30" x2="367.50" y2="233.20" stroke="#111" stroke-width="1.1"/>
<line x1="363.80" y1="215.50" x2="370.60" y2="215.50" stroke="#111" stroke-width="1.2"/>
<line x1="363.80" y1="233.50" x2="370.60" y2="233.50" stroke="#111" stroke-width="1.2"/>
<line x1="367.50" y1="252.30" x2="367.50" y2="281.00" stroke="#111" stroke-width="1.1"/>
<line x1="363.80" y1="252.50" x2="370.60" y2="252.50" stroke="#111" stroke-width="1.2"/>
<line x1="363.80" y1="267.50" x2="370.60" y2="267.50" stroke="#111" stroke-width="1.2"/>
<line x1="363.80" y1="279.50" x2="370.60" y2="279.50" stroke="#111" stroke-width="1.2"/>
<line x1="363.80" y1="281.50" x2="370.60" y2="281.50" stroke="#111" stroke-width="1.2"/>
<line x1="411.50" y1="211.50" x2="411.50" y2="223.00" stroke="#111" stroke-width="1.1"/>
<line x1="407.70" y1="211.50" x2="414.50" y2="211.50" stroke="#111" stroke-width="1.2"/>
<line x1="407.70" y1="223.50" x2="414.50" y2="223.50" stroke="#111" stroke-width="1.2"/>
<line x1="411.50" y1="226.10" x2="411.50" y2="244.00" stroke="#111" stroke-width="1.1"/>
<line x1="407.70" y1="226.50" x2="414.50" y2="226.50" stroke="#111" stroke-width="1.2"/>
<line x1="498.50" y1="200.30" x2="498.50" y2="235.00" stroke="#111" stroke-width="1.1"/>
<line x1="494.80" y1="200.50" x2="502.40" y2="200.50" stroke="#111" stroke-width="1.2"/>
<line x1="494.80" y1="235.50" x2="502.40" y2="235.50" stroke="#111" stroke-width="1.2"/>
<rect x="322.80" y="300.90" width="7.4" height="7.4" fill="#111"/>
<rect x="334.30" y="287.90" width="7.4" height="7.4" fill="#111"/>
<rect x="349.20" y="274.70" width="7.4" height="7.4" fill="#111"/>
<rect x="363.60" y="258.30" width="7.4" height="7.4" fill="#111"/>
<rect x="407.90" y="229.80" width="6.40" height="6.40" fill="#fff" stroke="#111" stroke-width="1.2"/>
<rect x="495.50" y="218.80" width="6.20" height="6.20" fill="#fff" stroke="#111" stroke-width="1.2"/>
<rect x="494.90" y="213.10" width="7.4" height="7.4" fill="#111"/>
<circle cx="326.10" cy="310.80" r="3.05" fill="#fff" stroke="#111" stroke-width="1.5"/>
<circle cx="338.40" cy="303.80" r="3.05" fill="#fff" stroke="#111" stroke-width="1.5"/>
<circle cx="352.80" cy="293.00" r="3.05" fill="#fff" stroke="#111" stroke-width="1.5"/>
<circle cx="367.40" cy="272.80" r="3.05" fill="#fff" stroke="#111" stroke-width="1.5"/>
<circle cx="411.10" cy="233.00" r="2.55" fill="#fff" stroke="#111" stroke-width="1.5"/>
<circle cx="498.60" cy="219.70" r="2.65" fill="#fff" stroke="#111" stroke-width="1.5"/>
<circle cx="326.20" cy="275.90" r="3.6" fill="#111"/>
<circle cx="338.00" cy="259.10" r="3.6" fill="#111"/>
<circle cx="352.90" cy="229.70" r="3.6" fill="#111"/>
<circle cx="367.00" cy="224.10" r="3.6" fill="#111"/>
<circle cx="411.10" cy="218.90" r="3.6" fill="#111"/>
<circle cx="498.60" cy="207.80" r="3.6" fill="#111"/>
<text transform="translate(259.10,305.40) rotate(-90)" font-size="9.5">125</text>
<text transform="translate(265.40,289.60) rotate(-90)" font-size="14.25">I-FVIIa bound</text>
<text transform="translate(287.20,303.00) rotate(-90)" font-size="14.25">(fmol/10<tspan font-size="9.3" dy="-5.8">5</tspan><tspan dy="5.8"> cells)</tspan></text>
<text x="1.10" y="451.60" font-size="18" font-weight="bold">E</text>
<polyline points="48.5,596 48.5,482.5 264.5,482.5 264.5,596" fill="none" stroke="#444" stroke-width="1.0"/>
<line x1="48.60" y1="596.50" x2="264.40" y2="596.50" stroke="#1a1a1a" stroke-width="1.2"/>
<line x1="48.50" y1="596.60" x2="48.50" y2="482.00" stroke="#1a1a1a" stroke-width="1.2"/>
<line x1="45.40" y1="596.50" x2="48.60" y2="596.50" stroke="#1a1a1a" stroke-width="1.0"/>
<line x1="46.80" y1="590.50" x2="48.60" y2="590.50" stroke="#1a1a1a" stroke-width="1.0"/>
<line x1="46.80" y1="584.50" x2="48.60" y2="584.50" stroke="#1a1a1a" stroke-width="1.0"/>
<line x1="46.80" y1="578.50" x2="48.60" y2="578.50" stroke="#1a1a1a" stroke-width="1.0"/>
<line x1="46.80" y1="573.50" x2="48.60" y2="573.50" stroke="#1a1a1a" stroke-width="1.0"/>
<line x1="45.40" y1="567.50" x2="48.60" y2="567.50" stroke="#1a1a1a" stroke-width="1.0"/>
<line x1="46.80" y1="561.50" x2="48.60" y2="561.50" stroke="#1a1a1a" stroke-width="1.0"/>
<line x1="46.80" y1="556.50" x2="48.60" y2="556.50" stroke="#1a1a1a" stroke-width="1.0"/>
<line x1="46.80" y1="550.50" x2="48.60" y2="550.50" stroke="#1a1a1a" stroke-width="1.0"/>
<line x1="46.80" y1="544.50" x2="48.60" y2="544.50" stroke="#1a1a1a" stroke-width="1.0"/>
<line x1="45.40" y1="539.50" x2="48.60" y2="539.50" stroke="#1a1a1a" stroke-width="1.0"/>
<line x1="46.80" y1="533.50" x2="48.60" y2="533.50" stroke="#1a1a1a" stroke-width="1.0"/>
<line x1="46.80" y1="527.50" x2="48.60" y2="527.50" stroke="#1a1a1a" stroke-width="1.0"/>
<line x1="46.80" y1="521.50" x2="48.60" y2="521.50" stroke="#1a1a1a" stroke-width="1.0"/>
<line x1="46.80" y1="516.50" x2="48.60" y2="516.50" stroke="#1a1a1a" stroke-width="1.0"/>
<line x1="45.40" y1="510.50" x2="48.60" y2="510.50" stroke="#1a1a1a" stroke-width="1.0"/>
<line x1="46.80" y1="504.50" x2="48.60" y2="504.50" stroke="#1a1a1a" stroke-width="1.0"/>
<line x1="46.80" y1="499.50" x2="48.60" y2="499.50" stroke="#1a1a1a" stroke-width="1.0"/>
<line x1="46.80" y1="493.50" x2="48.60" y2="493.50" stroke="#1a1a1a" stroke-width="1.0"/>
<line x1="46.80" y1="487.50" x2="48.60" y2="487.50" stroke="#1a1a1a" stroke-width="1.0"/>
<line x1="45.40" y1="482.50" x2="48.60" y2="482.50" stroke="#1a1a1a" stroke-width="1.0"/>
<text x="44.28" y="599.36" font-size="9.6" text-anchor="end">0</text>
<text x="44.28" y="570.86" font-size="9.6" text-anchor="end">5</text>
<text x="44.28" y="542.36" font-size="9.6" text-anchor="end">10</text>
<text x="44.28" y="513.86" font-size="9.6" text-anchor="end">15</text>
<text x="44.28" y="485.36" font-size="9.6" text-anchor="end">20</text>
<rect x="58.50" y="581.50" width="13.00" height="14.50" fill="#8e8e8e" stroke="#262626" stroke-width="1.0"/>
<line x1="64.50" y1="581.20" x2="64.50" y2="579.00" stroke="#262626" stroke-width="1.0"/>
<line x1="61.25" y1="579.50" x2="68.25" y2="579.50" stroke="#262626" stroke-width="1.0"/>
<text x="62.30" y="605.30" font-size="7.8" text-anchor="middle" font-weight="bold">C</text>
<rect x="77.50" y="575.50" width="13.00" height="20.50" fill="#8e8e8e" stroke="#262626" stroke-width="1.0"/>
<line x1="83.50" y1="575.90" x2="83.50" y2="572.00" stroke="#262626" stroke-width="1.0"/>
<line x1="80.05" y1="572.50" x2="87.05" y2="572.50" stroke="#262626" stroke-width="1.0"/>
<text x="82.80" y="605.30" font-size="7.8" text-anchor="middle" font-weight="bold">Et.OH</text>
<rect x="96.50" y="581.50" width="12.00" height="14.50" fill="#8e8e8e" stroke="#262626" stroke-width="1.0"/>
<line x1="102.50" y1="581.20" x2="102.50" y2="577.10" stroke="#262626" stroke-width="1.0"/>
<line x1="98.95" y1="577.50" x2="105.95" y2="577.50" stroke="#262626" stroke-width="1.0"/>
<text x="103.50" y="605.30" font-size="7.8" text-anchor="middle" font-weight="bold">0.1</text>
<rect x="115.50" y="581.50" width="13.00" height="14.50" fill="#8e8e8e" stroke="#262626" stroke-width="1.0"/>
<line x1="121.50" y1="581.50" x2="121.50" y2="575.10" stroke="#262626" stroke-width="1.0"/>
<line x1="118.15" y1="575.50" x2="125.15" y2="575.50" stroke="#262626" stroke-width="1.0"/>
<text x="123.20" y="605.30" font-size="7.8" text-anchor="middle" font-weight="bold">0.25</text>
<rect x="134.50" y="576.50" width="13.00" height="19.50" fill="#8e8e8e" stroke="#262626" stroke-width="1.0"/>
<line x1="140.50" y1="576.10" x2="140.50" y2="573.60" stroke="#262626" stroke-width="1.0"/>
<line x1="137.25" y1="573.50" x2="144.25" y2="573.50" stroke="#262626" stroke-width="1.0"/>
<text x="142.40" y="605.30" font-size="7.8" text-anchor="middle" font-weight="bold">1.0</text>
<rect x="165.50" y="529.50" width="13.00" height="66.50" fill="#8e8e8e" stroke="#262626" stroke-width="1.0"/>
<line x1="171.50" y1="529.40" x2="171.50" y2="520.30" stroke="#262626" stroke-width="1.0"/>
<line x1="168.45" y1="520.50" x2="175.45" y2="520.50" stroke="#262626" stroke-width="1.0"/>
<text x="171.10" y="605.30" font-size="7.8" text-anchor="middle" font-weight="bold">C</text>
<rect x="184.50" y="524.50" width="13.00" height="71.50" fill="#8e8e8e" stroke="#262626" stroke-width="1.0"/>
<line x1="190.50" y1="524.80" x2="190.50" y2="518.50" stroke="#262626" stroke-width="1.0"/>
<line x1="187.35" y1="518.50" x2="194.35" y2="518.50" stroke="#262626" stroke-width="1.0"/>
<text x="191.60" y="605.30" font-size="7.8" text-anchor="middle" font-weight="bold">Et.OH</text>
<rect x="203.50" y="515.50" width="13.00" height="80.50" fill="#8e8e8e" stroke="#262626" stroke-width="1.0"/>
<line x1="209.50" y1="515.40" x2="209.50" y2="502.40" stroke="#262626" stroke-width="1.0"/>
<line x1="206.25" y1="502.50" x2="213.25" y2="502.50" stroke="#262626" stroke-width="1.0"/>
<text x="212.00" y="605.30" font-size="7.8" text-anchor="middle" font-weight="bold">0.1</text>
<rect x="222.50" y="510.50" width="13.00" height="85.50" fill="#8e8e8e" stroke="#262626" stroke-width="1.0"/>
<line x1="228.50" y1="510.00" x2="228.50" y2="496.30" stroke="#262626" stroke-width="1.0"/>
<line x1="225.05" y1="496.50" x2="232.05" y2="496.50" stroke="#262626" stroke-width="1.0"/>
<text x="231.50" y="605.30" font-size="7.8" text-anchor="middle" font-weight="bold">0.25</text>
<rect x="241.50" y="515.50" width="13.00" height="80.50" fill="#8e8e8e" stroke="#262626" stroke-width="1.0"/>
<line x1="247.50" y1="515.40" x2="247.50" y2="494.20" stroke="#262626" stroke-width="1.0"/>
<line x1="244.45" y1="494.50" x2="251.45" y2="494.50" stroke="#262626" stroke-width="1.0"/>
<text x="250.50" y="605.30" font-size="7.8" text-anchor="middle" font-weight="bold">1.0</text>
<rect x="58" y="615" width="93" height="2.2" fill="#000"/>
<rect x="165.6" y="614" width="93.4" height="2.2" fill="#000"/>
<text x="73.00" y="627.60" font-size="9.9">DTNB (mM)</text>
<text x="155.50" y="627.60" font-size="10.1">DTNB (mM) + HgCl<tspan font-size="7" dy="2.5">2</tspan><tspan dy="-2.5">(25 µM)</tspan></text>
<text transform="translate(9.20,587.30) rotate(-90)" font-size="13.4">TF-FVIIa Activity</text>
<text transform="translate(24.90,609.50) rotate(-90)" font-size="13.4">FXa generated (nM/min)</text>
<text x="263.30" y="451.20" font-size="18" font-weight="bold">F</text>
<polyline points="348.5,598 348.5,483.5 519.5,483.5 519.5,598" fill="none" stroke="#444" stroke-width="1.0"/>
<line x1="348.40" y1="598.50" x2="519.40" y2="598.50" stroke="#1a1a1a" stroke-width="1.2"/>
<line x1="348.50" y1="598.60" x2="348.50" y2="483.40" stroke="#1a1a1a" stroke-width="1.2"/>
<line x1="345.20" y1="598.50" x2="348.40" y2="598.50" stroke="#1a1a1a" stroke-width="1.0"/>
<line x1="346.60" y1="593.50" x2="348.40" y2="593.50" stroke="#1a1a1a" stroke-width="1.0"/>
<line x1="346.60" y1="588.50" x2="348.40" y2="588.50" stroke="#1a1a1a" stroke-width="1.0"/>
<line x1="346.60" y1="584.50" x2="348.40" y2="584.50" stroke="#1a1a1a" stroke-width="1.0"/>
<line x1="346.60" y1="579.50" x2="348.40" y2="579.50" stroke="#1a1a1a" stroke-width="1.0"/>
<line x1="345.20" y1="575.50" x2="348.40" y2="575.50" stroke="#1a1a1a" stroke-width="1.0"/>
<line x1="346.60" y1="570.50" x2="348.40" y2="570.50" stroke="#1a1a1a" stroke-width="1.0"/>
<line x1="346.60" y1="565.50" x2="348.40" y2="565.50" stroke="#1a1a1a" stroke-width="1.0"/>
<line x1="346.60" y1="561.50" x2="348.40" y2="561.50" stroke="#1a1a1a" stroke-width="1.0"/>
<line x1="346.60" y1="556.50" x2="348.40" y2="556.50" stroke="#1a1a1a" stroke-width="1.0"/>
<line x1="345.20" y1="552.50" x2="348.40" y2="552.50" stroke="#1a1a1a" stroke-width="1.0"/>
<line x1="346.60" y1="547.50" x2="348.40" y2="547.50" stroke="#1a1a1a" stroke-width="1.0"/>
<line x1="346.60" y1="542.50" x2="348.40" y2="542.50" stroke="#1a1a1a" stroke-width="1.0"/>
<line x1="346.60" y1="538.50" x2="348.40" y2="538.50" stroke="#1a1a1a" stroke-width="1.0"/>
<line x1="346.60" y1="533.50" x2="348.40" y2="533.50" stroke="#1a1a1a" stroke-width="1.0"/>
<line x1="345.20" y1="529.50" x2="348.40" y2="529.50" stroke="#1a1a1a" stroke-width="1.0"/>
<line x1="346.60" y1="524.50" x2="348.40" y2="524.50" stroke="#1a1a1a" stroke-width="1.0"/>
<line x1="346.60" y1="520.50" x2="348.40" y2="520.50" stroke="#1a1a1a" stroke-width="1.0"/>
<line x1="346.60" y1="515.50" x2="348.40" y2="515.50" stroke="#1a1a1a" stroke-width="1.0"/>
<line x1="346.60" y1="510.50" x2="348.40" y2="510.50" stroke="#1a1a1a" stroke-width="1.0"/>
<line x1="345.20" y1="506.50" x2="348.40" y2="506.50" stroke="#1a1a1a" stroke-width="1.0"/>
<line x1="346.60" y1="501.50" x2="348.40" y2="501.50" stroke="#1a1a1a" stroke-width="1.0"/>
<line x1="346.60" y1="497.50" x2="348.40" y2="497.50" stroke="#1a1a1a" stroke-width="1.0"/>
<line x1="346.60" y1="492.50" x2="348.40" y2="492.50" stroke="#1a1a1a" stroke-width="1.0"/>
<line x1="346.60" y1="487.50" x2="348.40" y2="487.50" stroke="#1a1a1a" stroke-width="1.0"/>
<line x1="345.20" y1="483.50" x2="348.40" y2="483.50" stroke="#1a1a1a" stroke-width="1.0"/>
<text x="344.02" y="601.71" font-size="10.6" text-anchor="end">0.0</text>
<text x="344.02" y="578.79" font-size="10.6" text-anchor="end">2.5</text>
<text x="344.02" y="555.87" font-size="10.6" text-anchor="end">5.0</text>
<text x="344.02" y="532.95" font-size="10.6" text-anchor="end">7.5</text>
<text x="344.02" y="510.03" font-size="10.6" text-anchor="end">10.0</text>
<text x="344.02" y="487.11" font-size="10.6" text-anchor="end">12.5</text>
<rect x="353.50" y="563.50" width="19.00" height="34.50" fill="#8e8e8e" stroke="#262626" stroke-width="1.0"/>
<line x1="362.50" y1="563.10" x2="362.50" y2="552.90" stroke="#262626" stroke-width="1.0"/>
<line x1="357.75" y1="552.50" x2="368.15" y2="552.50" stroke="#262626" stroke-width="1.0"/>
<line x1="362.50" y1="598.00" x2="362.50" y2="601.50" stroke="#1a1a1a" stroke-width="1.0"/>
<text x="362.95" y="611.80" font-size="10.6" text-anchor="middle">0</text>
<rect x="381.50" y="543.50" width="20.00" height="54.50" fill="#8e8e8e" stroke="#262626" stroke-width="1.0"/>
<line x1="391.50" y1="543.70" x2="391.50" y2="535.80" stroke="#262626" stroke-width="1.0"/>
<line x1="386.21" y1="535.50" x2="396.61" y2="535.50" stroke="#262626" stroke-width="1.0"/>
<line x1="391.50" y1="598.00" x2="391.50" y2="601.50" stroke="#1a1a1a" stroke-width="1.0"/>
<text x="391.41" y="611.80" font-size="10.6" text-anchor="middle">5</text>
<rect x="410.50" y="518.50" width="19.00" height="79.50" fill="#8e8e8e" stroke="#262626" stroke-width="1.0"/>
<line x1="419.50" y1="518.00" x2="419.50" y2="516.40" stroke="#262626" stroke-width="1.0"/>
<line x1="414.67" y1="516.50" x2="425.07" y2="516.50" stroke="#262626" stroke-width="1.0"/>
<text x="417.55" y="518.08" font-size="15" font-weight="bold">*</text>
<line x1="419.50" y1="598.00" x2="419.50" y2="601.50" stroke="#1a1a1a" stroke-width="1.0"/>
<text x="419.87" y="611.80" font-size="10.6" text-anchor="middle">20</text>
<rect x="438.50" y="513.50" width="19.00" height="84.50" fill="#8e8e8e" stroke="#262626" stroke-width="1.0"/>
<line x1="448.50" y1="513.40" x2="448.50" y2="502.70" stroke="#262626" stroke-width="1.0"/>
<line x1="443.13" y1="502.50" x2="453.53" y2="502.50" stroke="#262626" stroke-width="1.0"/>
<text x="446.00" y="504.07" font-size="15" font-weight="bold">*</text>
<line x1="448.50" y1="598.00" x2="448.50" y2="601.50" stroke="#1a1a1a" stroke-width="1.0"/>
<text x="448.33" y="611.80" font-size="10.6" text-anchor="middle">50</text>
<rect x="467.50" y="518.50" width="19.00" height="79.50" fill="#8e8e8e" stroke="#262626" stroke-width="1.0"/>
<line x1="476.50" y1="518.00" x2="476.50" y2="512.10" stroke="#262626" stroke-width="1.0"/>
<line x1="471.59" y1="512.50" x2="481.99" y2="512.50" stroke="#262626" stroke-width="1.0"/>
<text x="474.46" y="513.48" font-size="15" font-weight="bold">*</text>
<line x1="476.50" y1="598.00" x2="476.50" y2="601.50" stroke="#1a1a1a" stroke-width="1.0"/>
<text x="476.79" y="611.80" font-size="10.6" text-anchor="middle">100</text>
<rect x="495.50" y="499.50" width="19.00" height="98.50" fill="#8e8e8e" stroke="#262626" stroke-width="1.0"/>
<line x1="505.50" y1="499.70" x2="505.50" y2="492.30" stroke="#262626" stroke-width="1.0"/>
<line x1="500.05" y1="492.50" x2="510.45" y2="492.50" stroke="#262626" stroke-width="1.0"/>
<text x="502.93" y="495.07" font-size="15" font-weight="bold">*</text>
<line x1="505.50" y1="598.00" x2="505.50" y2="601.50" stroke="#1a1a1a" stroke-width="1.0"/>
<text x="505.25" y="611.80" font-size="10.6" text-anchor="middle">500</text>
<text x="385.20" y="626.80" font-size="10.7">Reduced GSH (mM)</text>
<text transform="translate(299.20,587.00) rotate(-90)" font-size="12.8">TF-FVIIa Activity</text>
<text transform="translate(314.50,606.00) rotate(-90)" font-size="12.6">FXa generated (nM/min)</text>
</svg>
</body></html>
